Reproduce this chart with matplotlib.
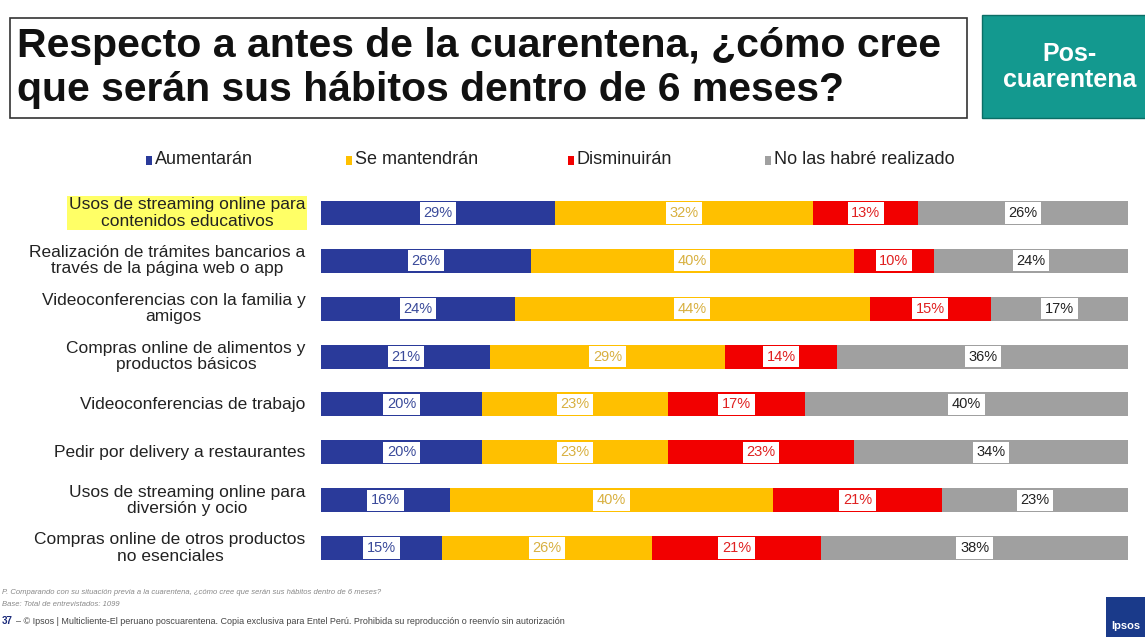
import matplotlib.pyplot as plt
from matplotlib.patches import Rectangle
import numpy as np

plt.rcParams['font.family'] = ['Liberation Sans', 'DejaVu Sans']

categorias = [
    'Usos de streaming online para\ncontenidos educativos',
    'Realización de trámites bancarios a\ntravés de la página web o app',
    'Videoconferencias con la familia y\namigos',
    'Compras online de alimentos y\nproductos básicos',
    'Videoconferencias de trabajo',
    'Pedir por delivery a restaurantes',
    'Usos de streaming online para\ndiversión y ocio',
    'Compras online de otros productos\nno esenciales',
]
series = ['Aumentarán', 'Se mantendrán', 'Disminuirán', 'No las habré realizado']
aumentaran = [29, 26, 24, 21, 20, 20, 16, 15]
mantendran = [32, 40, 44, 29, 23, 23, 40, 26]
disminuiran = [13, 10, 15, 14, 17, 23, 21, 21]
no_realizado = [26, 24, 17, 36, 40, 34, 23, 38]

colores = ['#2a3a9a', '#ffc000', '#f20000', '#a0a0a0']
col_texto = ['#3a4a9a', '#d8b040', '#e02020', '#222222']

W, H = 1145, 637
fig = plt.figure(figsize=(W / 100, H / 100), dpi=100)
fig.patch.set_facecolor('white')

# titulo en caja
fig.patches.append(Rectangle((10 / W, 1 - 118 / H), 957 / W, 100 / H, transform=fig.transFigure,
                             facecolor='white', edgecolor='#333333', lw=1.2))
fig.text(17 / W, 1 - 68 / H, 'Respecto a antes de la cuarentena, ¿cómo cree\nque serán sus hábitos dentro de 6 meses?',
         fontsize=29.5, fontweight='bold', va='center', ha='left', color='#111111', linespacing=1.22)
fig.patches.append(Rectangle((982 / W, 1 - 118 / H), 165 / W, 103 / H, transform=fig.transFigure,
                             facecolor='#13998f', edgecolor='#0b6e66', lw=1))
fig.text(1070 / W, 1 - 67 / H, 'Pos-\ncuarentena', fontsize=18, fontweight='bold', color='white',
         ha='center', va='center', linespacing=1.1)

# leyenda
leg_x = [146, 346, 568, 765]
for i, s in enumerate(series):
    fig.patches.append(Rectangle((leg_x[i] / W, 1 - 165 / H), 6 / W, 9 / H, transform=fig.transFigure,
                                 facecolor=colores[i], edgecolor='none'))
    fig.text((leg_x[i] + 9) / W, 1 - 160 / H, s, fontsize=13, va='center', ha='left', color='#222222')

ax = fig.add_axes([321 / W, 1 - 572 / H, 807 / W, 383 / H])
y = np.arange(len(categorias))
datos = [aumentaran, mantendran, disminuiran, no_realizado]
izq = np.zeros(len(categorias))
for k, vals in enumerate(datos):
    vals = np.array(vals)
    ax.barh(y, vals, left=izq, height=0.5, color=colores[k], edgecolor='none')
    for yi, (l, v) in enumerate(zip(izq, vals)):
        ax.text(l + v / 2, yi, f'{v}%', ha='center', va='center', fontsize=10.5, color=col_texto[k],
                bbox=dict(boxstyle='square,pad=0.25', facecolor='white', edgecolor='none'))
    izq += vals
ax.set_xlim(0, 100)
ax.set_ylim(len(categorias) - 0.5, -0.5)
ax.axis('off')

for yi, c in enumerate(categorias):
    t = ax.text(-1.9, yi, c, ha='right', va='center', fontsize=12.5, color='#222222',
                multialignment='center', linespacing=1.1)
    if yi == 0:
        t.set_bbox(dict(boxstyle='square,pad=0.1', facecolor='#ffff66', edgecolor='none'))

# notas
fig.text(2 / W, 1 - 593 / H, 'P. Comparando con su situación previa a la cuarentena, ¿cómo cree que serán sus hábitos dentro de 6 meses?',
         fontsize=5.5, style='italic', color='#888888', va='center')
fig.text(2 / W, 1 - 605 / H, 'Base: Total de entrevistados: 1099', fontsize=5.5, style='italic', color='#888888', va='center')
fig.text(2 / W, 1 - 621 / H, '37', fontsize=7, fontweight='bold', color='#1a2a7a', va='center')
fig.text(16 / W, 1 - 621 / H, '– © Ipsos | Multicliente-El peruano poscuarentena. Copia exclusiva para Entel Perú. Prohibida su reproducción o reenvío sin autorización',
         fontsize=6.5, color='#444444', va='center')
fig.patches.append(Rectangle((1106 / W, 0), 40 / W, 40 / H, transform=fig.transFigure,
                             facecolor='#1a3a8a', edgecolor='none'))
fig.text(1126 / W, 6 / H, 'Ipsos', fontsize=8, color='white', ha='center', va='bottom', fontweight='bold')

fig.savefig('out.png', dpi=100)
